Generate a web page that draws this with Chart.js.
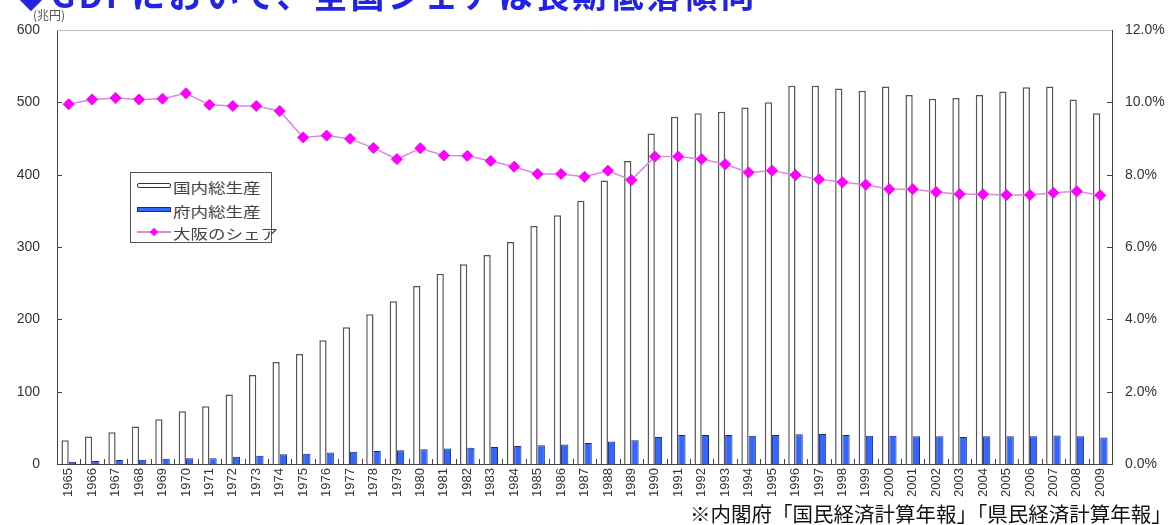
<!DOCTYPE html>
<html>
<head>
<meta charset="utf-8">
<script src="https://cdn.jsdelivr.net/npm/chart.js@4.4.1/dist/chart.umd.min.js"></script>
<style>
  html, body { margin: 0; padding: 0; background: #fff; }
  body { width: 1169px; height: 525px; overflow: hidden; position: relative; }
  #wrap { position: absolute; left: 0; top: 0; width: 1169px; height: 525px; }
  #titulo { position: absolute; left: 14px; top: -31px; font: bold 34px "Noto Sans CJK JP", sans-serif;
            color: #2323e6; letter-spacing: 3px; white-space: nowrap; }
  #unidade { position: absolute; left: 33px; top: 6px; font: 12px "Noto Sans CJK JP", sans-serif; color: #555; }
  #legenda { position: absolute; left: 130px; top: 172px; width: 140px; height: 69px;
             border: 1px solid #555; background: #fff; }
  .item { position: absolute; left: 6px; height: 16px; width: 140px; }
  .item .sim { position: absolute; left: 0; top: 5px; width: 34px; height: 5px; box-sizing: border-box; }
  .item .txt { position: absolute; left: 36px; top: -1px; font: 14px "Noto Sans CJK JP", sans-serif; color: #444;
               transform: scaleX(1.25); transform-origin: left center; white-space: nowrap; }
  #fonte { position: absolute; left: 690px; top: 498px; font: 20.5px "Noto Sans CJK JP", sans-serif; color: #111; white-space: nowrap; }
</style>
</head>
<body>
<div id="wrap"><canvas id="grafico"></canvas></div>
<div id="titulo">◆GDPにおいて、全国シェアは長期低落傾向</div>
<div id="unidade">(兆円)</div>
<div id="legenda">
  <div class="item" style="top:5px"><div class="sim" style="background:#fff;border:1px solid #333;border-radius:2px"></div><span class="txt">国内総生産</span></div>
  <div class="item" style="top:29px"><div class="sim" style="background:#3366ff;border:1px solid #1a2a80"></div><span class="txt">府内総生産</span></div>
  <div class="item" style="top:51px">
    <div class="sim" style="top:7px;height:1.5px;background:#dd88dd"></div>
    <div class="sim" style="left:13px;top:4px;width:8px;height:8px;background:#ff00ff;transform:rotate(45deg) scale(0.75)"></div>
    <span class="txt">大阪のシェア</span></div>
</div>
<div id="fonte">※内閣府「国民経済計算年報」「県民経済計算年報」</div>

<script>
// anos
const anos = [
  "1965","1966","1967","1968","1969","1970","1971","1972","1973","1974",
  "1975","1976","1977","1978","1979","1980","1981","1982","1983","1984",
  "1985","1986","1987","1988","1989","1990","1991","1992","1993","1994",
  "1995","1996","1997","1998","1999","2000","2001","2002","2003","2004",
  "2005","2006","2007","2008","2009"
];

// 国内総生産 (兆円)
const pibNacional = [
  33, 38, 44, 52, 62, 73, 80, 96, 123, 141,
  152, 171, 189, 207, 225, 246, 263, 276, 289, 307,
  329, 344, 364, 392, 419, 457, 480, 485, 487, 493,
  500, 523, 523, 519, 516, 522, 510, 505, 506, 510,
  515, 521, 522, 504, 485
];

// 府内総生産 (兆円)
const pibOsaka = [
  3, 4, 5.5, 6, 7.3, 8, 8, 10, 11.5, 13.5,
  14, 16, 17, 18, 19, 20.5, 21.5, 22.5, 23.5, 25,
  26, 27, 29, 31, 33, 37.5, 40, 40, 40, 39,
  40, 41, 41.5, 40, 39, 39, 38.5, 38.5, 37.5, 38.5,
  38.5, 38.5, 39.5, 38.5, 36.5
];

// 大阪のシェア (%)
const participacao = [
  9.95, 10.08, 10.12, 10.08, 10.1, 10.25, 9.93, 9.9, 9.9, 9.76,
  9.03, 9.08, 8.99, 8.74, 8.43, 8.73, 8.53, 8.52, 8.38, 8.22,
  8.02, 8.02, 7.94, 8.11, 7.85, 8.5, 8.5, 8.43, 8.29, 8.06,
  8.11, 7.99, 7.87, 7.79, 7.72, 7.6, 7.6, 7.52, 7.46, 7.46,
  7.44, 7.44, 7.5, 7.54, 7.43
];

const ticksEsquerda = [0, 100, 200, 300, 400, 500, 600];
const ticksDireita = [0, 2, 4, 6, 8, 10, 12];

// tracinhos internos dos eixos + linha de cima
const marcas = {
  id: 'marcas',
  afterDatasetsDraw(chart) {
    const { ctx, chartArea: a, scales } = chart;
    ctx.save();
    ctx.strokeStyle = '#444';
    ctx.lineWidth = 1;
    ctx.beginPath();
    ticksEsquerda.forEach(v => {
      const y = Math.round(scales.y.getPixelForValue(v)) + 0.5;
      ctx.moveTo(a.left, y); ctx.lineTo(a.left + 5, y);
    });
    ticksDireita.forEach(v => {
      const y = Math.round(scales.y1.getPixelForValue(v)) + 0.5;
      ctx.moveTo(a.right, y); ctx.lineTo(a.right - 5, y);
    });
    const n = anos.length;
    for (let i = 1; i < n; i++) {
      const x = Math.round((scales.x.getPixelForValue(i - 1) + scales.x.getPixelForValue(i)) / 2) + 0.5;
      ctx.moveTo(x, a.bottom); ctx.lineTo(x, a.bottom - 5);
    }
    ctx.stroke();
    ctx.strokeStyle = '#bbb';
    ctx.beginPath();
    ctx.moveTo(a.left, a.top + 0.5); ctx.lineTo(a.right, a.top + 0.5);
    ctx.stroke();
    ctx.restore();
  }
};

const fonteTicks = { family: "'Liberation Sans', Arial, sans-serif", size: 14 };

new Chart(document.getElementById('grafico').getContext('2d'), {
  type: 'bar',
  data: {
    labels: anos,
    datasets: [
      {
        type: 'line',
        label: '大阪のシェア',
        data: participacao,
        yAxisID: 'y1',
        borderColor: '#dd88dd',
        borderWidth: 1.5,
        pointStyle: 'rectRot',
        pointRadius: 5.5,
        pointBackgroundColor: '#ff00ff',
        pointBorderColor: '#ff00ff',
        pointBorderWidth: 1,
        order: 0
      },
      {
        label: '国内総生産',
        data: pibNacional,
        yAxisID: 'y',
        backgroundColor: '#ffffff',
        borderColor: '#555555',
        borderWidth: 1.5,
        order: 1
      },
      {
        label: '府内総生産',
        data: pibOsaka,
        yAxisID: 'y',
        backgroundColor: '#3366ff',
        borderColor: '#1a2a80',
        borderWidth: 1,
        order: 2
      }
    ]
  },
  options: {
    responsive: true,
    maintainAspectRatio: false,
    animation: false,
    datasets: { bar: { categoryPercentage: 0.62, barPercentage: 1.0 } },
    layout: { padding: { top: 30, left: 0, right: 0, bottom: 0 } },
    plugins: { legend: { display: false }, tooltip: { enabled: false } },
    scales: {
      x: {
        grid: { display: false, drawTicks: false },
        border: { color: '#444', width: 1 },
        ticks: {
          autoSkip: false, minRotation: 90, maxRotation: 90, padding: 4,
          color: '#333',
          font: { family: "'Liberation Sans Narrow', 'Liberation Sans', sans-serif", size: 13 }
        },
        afterFit(s) { s.height = 61; }
      },
      y: {
        position: 'left',
        min: 0, max: 600,
        grid: { display: false, drawTicks: false },
        border: { color: '#444', width: 1 },
        ticks: { stepSize: 100, padding: 17, color: '#333', font: fonteTicks },
        afterFit(s) { s.width = 57; }
      },
      y1: {
        position: 'right',
        min: 0, max: 12,
        grid: { display: false, drawTicks: false },
        border: { color: '#444', width: 1 },
        ticks: {
          stepSize: 2, padding: 13, color: '#333', font: fonteTicks,
          callback: v => v.toFixed(1) + '%'
        },
        afterFit(s) { s.width = 57; }
      }
    }
  },
  plugins: [marcas]
});
</script>
</body>
</html>
